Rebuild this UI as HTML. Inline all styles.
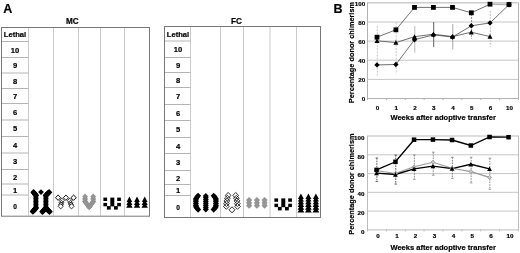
<!DOCTYPE html>
<html lang="en">
<head>
<meta charset="utf-8">
<title>Figure</title>
<style>
html,body{margin:0;padding:0;background:#fff;}
body{width:520px;height:253px;overflow:hidden;}
svg{display:block;}
svg text{font-family:'Liberation Sans', sans-serif;font-weight:bold;fill:#000;stroke:#000;stroke-width:0.18px;}
</style>
</head>
<body>
<svg width="520" height="253" viewBox="0 0 520 253">
<rect width="520" height="253" fill="#fff"/>
<text x="3.3" y="13.4" font-size="12.5" text-anchor="start" >A</text>
<text x="333.6" y="13.1" font-size="12.5" text-anchor="start" >B</text>
<text x="72.4" y="24.4" font-size="8.2" text-anchor="middle" >MC</text>
<text x="236.4" y="24.3" font-size="8.2" text-anchor="middle" >FC</text>
<line x1="28.5" y1="27" x2="28.5" y2="215.7" stroke="#cbcbcb" stroke-width="1" />
<line x1="53.5" y1="27" x2="53.5" y2="215.7" stroke="#cbcbcb" stroke-width="1" />
<line x1="78.5" y1="27" x2="78.5" y2="215.7" stroke="#cbcbcb" stroke-width="1" />
<line x1="100.5" y1="27" x2="100.5" y2="215.7" stroke="#cbcbcb" stroke-width="1" />
<line x1="124.5" y1="27" x2="124.5" y2="215.7" stroke="#cbcbcb" stroke-width="1" />
<line x1="1" y1="41.5" x2="28.5" y2="41.5" stroke="#b4b4b4" stroke-width="1" />
<line x1="1" y1="57.5" x2="28.5" y2="57.5" stroke="#b4b4b4" stroke-width="1" />
<line x1="1" y1="73.0" x2="28.5" y2="73.0" stroke="#b4b4b4" stroke-width="1" />
<line x1="1" y1="88.5" x2="28.5" y2="88.5" stroke="#b4b4b4" stroke-width="1" />
<line x1="1" y1="103.5" x2="28.5" y2="103.5" stroke="#b4b4b4" stroke-width="1" />
<line x1="1" y1="120.0" x2="28.5" y2="120.0" stroke="#b4b4b4" stroke-width="1" />
<line x1="1" y1="136.5" x2="28.5" y2="136.5" stroke="#b4b4b4" stroke-width="1" />
<line x1="1" y1="153.0" x2="28.5" y2="153.0" stroke="#b4b4b4" stroke-width="1" />
<line x1="1" y1="169.5" x2="28.5" y2="169.5" stroke="#b4b4b4" stroke-width="1" />
<line x1="1" y1="184.0" x2="28.5" y2="184.0" stroke="#b4b4b4" stroke-width="1" />
<line x1="1" y1="195.0" x2="28.5" y2="195.0" stroke="#b4b4b4" stroke-width="1" />
<rect x="1.5" y="27.5" width="148" height="188.7" fill="none" stroke="#787878" stroke-width="1"/>
<text x="15" y="37.34" font-size="7.6" text-anchor="middle" >Lethal</text>
<text x="15" y="52.74" font-size="7.6" text-anchor="middle" >10</text>
<text x="15" y="68.49" font-size="7.6" text-anchor="middle" >9</text>
<text x="15" y="83.99" font-size="7.6" text-anchor="middle" >8</text>
<text x="15" y="99.24" font-size="7.6" text-anchor="middle" >7</text>
<text x="15" y="114.99" font-size="7.6" text-anchor="middle" >6</text>
<text x="15" y="131.49" font-size="7.6" text-anchor="middle" >5</text>
<text x="15" y="147.99" font-size="7.6" text-anchor="middle" >4</text>
<text x="15" y="164.49" font-size="7.6" text-anchor="middle" >3</text>
<text x="15" y="179.99" font-size="7.6" text-anchor="middle" >2</text>
<text x="15" y="192.74" font-size="7.6" text-anchor="middle" >1</text>
<text x="15" y="209.18" font-size="6.6" text-anchor="middle" >0</text>
<line x1="190.5" y1="26" x2="190.5" y2="217" stroke="#cbcbcb" stroke-width="1" />
<line x1="220.5" y1="26" x2="220.5" y2="217" stroke="#cbcbcb" stroke-width="1" />
<line x1="243.5" y1="26" x2="243.5" y2="217" stroke="#cbcbcb" stroke-width="1" />
<line x1="270.0" y1="26" x2="270.0" y2="217" stroke="#cbcbcb" stroke-width="1" />
<line x1="296.5" y1="26" x2="296.5" y2="217" stroke="#cbcbcb" stroke-width="1" />
<line x1="164" y1="41.0" x2="190.5" y2="41.0" stroke="#b4b4b4" stroke-width="1" />
<line x1="164" y1="57.5" x2="190.5" y2="57.5" stroke="#b4b4b4" stroke-width="1" />
<line x1="164" y1="72.5" x2="190.5" y2="72.5" stroke="#b4b4b4" stroke-width="1" />
<line x1="164" y1="87.5" x2="190.5" y2="87.5" stroke="#b4b4b4" stroke-width="1" />
<line x1="164" y1="104.5" x2="190.5" y2="104.5" stroke="#b4b4b4" stroke-width="1" />
<line x1="164" y1="120.5" x2="190.5" y2="120.5" stroke="#b4b4b4" stroke-width="1" />
<line x1="164" y1="137.5" x2="190.5" y2="137.5" stroke="#b4b4b4" stroke-width="1" />
<line x1="164" y1="153.5" x2="190.5" y2="153.5" stroke="#b4b4b4" stroke-width="1" />
<line x1="164" y1="170.5" x2="190.5" y2="170.5" stroke="#b4b4b4" stroke-width="1" />
<line x1="164" y1="184.5" x2="190.5" y2="184.5" stroke="#b4b4b4" stroke-width="1" />
<line x1="164" y1="195.5" x2="190.5" y2="195.5" stroke="#b4b4b4" stroke-width="1" />
<rect x="164.5" y="26.5" width="156" height="191" fill="none" stroke="#787878" stroke-width="1"/>
<text x="178" y="36.59" font-size="7.6" text-anchor="middle" >Lethal</text>
<text x="178" y="52.49" font-size="7.6" text-anchor="middle" >10</text>
<text x="178" y="68.24" font-size="7.6" text-anchor="middle" >9</text>
<text x="178" y="83.24" font-size="7.6" text-anchor="middle" >8</text>
<text x="178" y="99.24" font-size="7.6" text-anchor="middle" >7</text>
<text x="178" y="115.74" font-size="7.6" text-anchor="middle" >6</text>
<text x="178" y="132.24" font-size="7.6" text-anchor="middle" >5</text>
<text x="178" y="148.74" font-size="7.6" text-anchor="middle" >4</text>
<text x="178" y="165.24" font-size="7.6" text-anchor="middle" >3</text>
<text x="178" y="180.74" font-size="7.6" text-anchor="middle" >2</text>
<text x="178" y="193.24" font-size="7.6" text-anchor="middle" >1</text>
<text x="178" y="210.08" font-size="6.6" text-anchor="middle" >0</text>
<path d="M35.9,192.8 L38.7,195.6 L35.9,198.4 L33.1,195.6 Z" fill="#000" stroke="none" stroke-width="0.8"/>
<path d="M35.9,194.3 L38.7,197.1 L35.9,199.9 L33.1,197.1 Z" fill="#000" stroke="none" stroke-width="0.8"/>
<path d="M35.9,195.8 L38.7,198.6 L35.9,201.4 L33.1,198.6 Z" fill="#000" stroke="none" stroke-width="0.8"/>
<path d="M35.9,197.3 L38.7,200.1 L35.9,202.9 L33.1,200.1 Z" fill="#000" stroke="none" stroke-width="0.8"/>
<path d="M35.9,198.8 L38.7,201.6 L35.9,204.4 L33.1,201.6 Z" fill="#000" stroke="none" stroke-width="0.8"/>
<path d="M35.9,200.3 L38.7,203.1 L35.9,205.9 L33.1,203.1 Z" fill="#000" stroke="none" stroke-width="0.8"/>
<path d="M35.9,201.8 L38.7,204.6 L35.9,207.4 L33.1,204.6 Z" fill="#000" stroke="none" stroke-width="0.8"/>
<path d="M35.9,203.3 L38.7,206.1 L35.9,208.9 L33.1,206.1 Z" fill="#000" stroke="none" stroke-width="0.8"/>
<path d="M35.9,204.8 L38.7,207.6 L35.9,210.4 L33.1,207.6 Z" fill="#000" stroke="none" stroke-width="0.8"/>
<path d="M33.5,189.1 L36.7,192.3 L33.5,195.5 L30.3,192.3 Z" fill="#000" stroke="none" stroke-width="0.8"/>
<path d="M34.1,189.83 L37.3,193.03 L34.1,196.23 L30.9,193.03 Z" fill="#000" stroke="none" stroke-width="0.8"/>
<path d="M34.7,190.55 L37.9,193.75 L34.7,196.95 L31.5,193.75 Z" fill="#000" stroke="none" stroke-width="0.8"/>
<path d="M35.3,191.27 L38.5,194.47 L35.3,197.67 L32.1,194.47 Z" fill="#000" stroke="none" stroke-width="0.8"/>
<path d="M35.9,192.0 L39.1,195.2 L35.9,198.4 L32.7,195.2 Z" fill="#000" stroke="none" stroke-width="0.8"/>
<path d="M35.9,204.8 L39.1,208.0 L35.9,211.2 L32.7,208.0 Z" fill="#000" stroke="none" stroke-width="0.8"/>
<path d="M35.28,205.52 L38.48,208.72 L35.28,211.92 L32.08,208.72 Z" fill="#000" stroke="none" stroke-width="0.8"/>
<path d="M34.66,206.24 L37.86,209.44 L34.66,212.64 L31.46,209.44 Z" fill="#000" stroke="none" stroke-width="0.8"/>
<path d="M34.04,206.96 L37.24,210.16 L34.04,213.36 L30.84,210.16 Z" fill="#000" stroke="none" stroke-width="0.8"/>
<path d="M33.42,207.68 L36.62,210.88 L33.42,214.08 L30.22,210.88 Z" fill="#000" stroke="none" stroke-width="0.8"/>
<path d="M32.8,208.4 L36.0,211.6 L32.8,214.8 L29.6,211.6 Z" fill="#000" stroke="none" stroke-width="0.8"/>
<path d="M45.9,192.8 L48.7,195.6 L45.9,198.4 L43.1,195.6 Z" fill="#000" stroke="none" stroke-width="0.8"/>
<path d="M45.9,194.3 L48.7,197.1 L45.9,199.9 L43.1,197.1 Z" fill="#000" stroke="none" stroke-width="0.8"/>
<path d="M45.9,195.8 L48.7,198.6 L45.9,201.4 L43.1,198.6 Z" fill="#000" stroke="none" stroke-width="0.8"/>
<path d="M45.9,197.3 L48.7,200.1 L45.9,202.9 L43.1,200.1 Z" fill="#000" stroke="none" stroke-width="0.8"/>
<path d="M45.9,198.8 L48.7,201.6 L45.9,204.4 L43.1,201.6 Z" fill="#000" stroke="none" stroke-width="0.8"/>
<path d="M45.9,200.3 L48.7,203.1 L45.9,205.9 L43.1,203.1 Z" fill="#000" stroke="none" stroke-width="0.8"/>
<path d="M45.9,201.8 L48.7,204.6 L45.9,207.4 L43.1,204.6 Z" fill="#000" stroke="none" stroke-width="0.8"/>
<path d="M45.9,203.3 L48.7,206.1 L45.9,208.9 L43.1,206.1 Z" fill="#000" stroke="none" stroke-width="0.8"/>
<path d="M45.9,204.8 L48.7,207.6 L45.9,210.4 L43.1,207.6 Z" fill="#000" stroke="none" stroke-width="0.8"/>
<path d="M49.1,189.0 L52.3,192.2 L49.1,195.4 L45.9,192.2 Z" fill="#000" stroke="none" stroke-width="0.8"/>
<path d="M48.46,189.64 L51.66,192.84 L48.46,196.04 L45.26,192.84 Z" fill="#000" stroke="none" stroke-width="0.8"/>
<path d="M47.82,190.28 L51.02,193.48 L47.82,196.68 L44.62,193.48 Z" fill="#000" stroke="none" stroke-width="0.8"/>
<path d="M47.18,190.92 L50.38,194.12 L47.18,197.32 L43.98,194.12 Z" fill="#000" stroke="none" stroke-width="0.8"/>
<path d="M46.54,191.56 L49.74,194.76 L46.54,197.96 L43.34,194.76 Z" fill="#000" stroke="none" stroke-width="0.8"/>
<path d="M45.9,192.2 L49.1,195.4 L45.9,198.6 L42.7,195.4 Z" fill="#000" stroke="none" stroke-width="0.8"/>
<path d="M45.9,204.8 L49.1,208.0 L45.9,211.2 L42.7,208.0 Z" fill="#000" stroke="none" stroke-width="0.8"/>
<path d="M46.64,205.54 L49.84,208.74 L46.64,211.94 L43.44,208.74 Z" fill="#000" stroke="none" stroke-width="0.8"/>
<path d="M47.38,206.28 L50.58,209.48 L47.38,212.68 L44.18,209.48 Z" fill="#000" stroke="none" stroke-width="0.8"/>
<path d="M48.12,207.02 L51.32,210.22 L48.12,213.42 L44.92,210.22 Z" fill="#000" stroke="none" stroke-width="0.8"/>
<path d="M48.86,207.76 L52.06,210.96 L48.86,214.16 L45.66,210.96 Z" fill="#000" stroke="none" stroke-width="0.8"/>
<path d="M49.6,208.5 L52.8,211.7 L49.6,214.9 L46.4,211.7 Z" fill="#000" stroke="none" stroke-width="0.8"/>
<path d="M45.9,204.8 L49.1,208.0 L45.9,211.2 L42.7,208.0 Z" fill="#000" stroke="none" stroke-width="0.8"/>
<path d="M45.2,205.54 L48.4,208.74 L45.2,211.94 L42.0,208.74 Z" fill="#000" stroke="none" stroke-width="0.8"/>
<path d="M44.5,206.28 L47.7,209.48 L44.5,212.68 L41.3,209.48 Z" fill="#000" stroke="none" stroke-width="0.8"/>
<path d="M43.8,207.02 L47.0,210.22 L43.8,213.42 L40.6,210.22 Z" fill="#000" stroke="none" stroke-width="0.8"/>
<path d="M43.1,207.76 L46.3,210.96 L43.1,214.16 L39.9,210.96 Z" fill="#000" stroke="none" stroke-width="0.8"/>
<path d="M42.4,208.5 L45.6,211.7 L42.4,214.9 L39.2,211.7 Z" fill="#000" stroke="none" stroke-width="0.8"/>
<path d="M41,189.2 L43.9,192.1 L41,195.0 L38.1,192.1 Z" fill="#000" stroke="none" stroke-width="0.8"/>
<path d="M61.9,198.2 L64.4,200.7 L61.9,203.2 L59.4,200.7 Z" fill="none" stroke="#111" stroke-width="0.8"/>
<path d="M61.4,200.3 L63.9,202.8 L61.4,205.3 L58.9,202.8 Z" fill="none" stroke="#111" stroke-width="0.8"/>
<path d="M61.0,202.1 L63.5,204.6 L61.0,207.1 L58.5,204.6 Z" fill="none" stroke="#111" stroke-width="0.8"/>
<path d="M69.8,198.2 L72.3,200.7 L69.8,203.2 L67.3,200.7 Z" fill="none" stroke="#111" stroke-width="0.8"/>
<path d="M70.5,200.3 L73.0,202.8 L70.5,205.3 L68.0,202.8 Z" fill="none" stroke="#111" stroke-width="0.8"/>
<path d="M71.1,202.1 L73.6,204.6 L71.1,207.1 L68.6,204.6 Z" fill="none" stroke="#111" stroke-width="0.8"/>
<path d="M60.7,203.7 L63.3,206.3 L60.7,208.9 L58.1,206.3 Z" fill="#fff" stroke="#111" stroke-width="0.85"/>
<path d="M71.5,203.7 L74.1,206.3 L71.5,208.9 L68.9,206.3 Z" fill="#fff" stroke="#111" stroke-width="0.85"/>
<path d="M58.1,195.05 L60.75,197.7 L58.1,200.35 L55.45,197.7 Z" fill="#fff" stroke="#000" stroke-width="0.95"/>
<path d="M65.9,195.05 L68.55,197.7 L65.9,200.35 L63.25,197.7 Z" fill="#fff" stroke="#000" stroke-width="0.95"/>
<path d="M73.6,195.05 L76.25,197.7 L73.6,200.35 L70.95,197.7 Z" fill="#fff" stroke="#000" stroke-width="0.95"/>
<path d="M85.1,193.55 L87.95,196.4 L85.1,199.25 L82.25,196.4 Z" fill="#949494" stroke="none" stroke-width="0.8"/>
<path d="M85.1,195.28 L87.95,198.13 L85.1,200.98 L82.25,198.13 Z" fill="#949494" stroke="none" stroke-width="0.8"/>
<path d="M85.1,197.02 L87.95,199.87 L85.1,202.72 L82.25,199.87 Z" fill="#949494" stroke="none" stroke-width="0.8"/>
<path d="M85.1,198.75 L87.95,201.6 L85.1,204.45 L82.25,201.6 Z" fill="#949494" stroke="none" stroke-width="0.8"/>
<path d="M85.1,198.75 L87.95,201.6 L85.1,204.45 L82.25,201.6 Z" fill="#949494" stroke="none" stroke-width="0.8"/>
<path d="M85.69,199.55 L88.54,202.4 L85.69,205.25 L82.84,202.4 Z" fill="#949494" stroke="none" stroke-width="0.8"/>
<path d="M86.27,200.35 L89.12,203.2 L86.27,206.05 L83.42,203.2 Z" fill="#949494" stroke="none" stroke-width="0.8"/>
<path d="M86.86,201.15 L89.71,204.0 L86.86,206.85 L84.01,204.0 Z" fill="#949494" stroke="none" stroke-width="0.8"/>
<path d="M87.44,201.95 L90.29,204.8 L87.44,207.65 L84.59,204.8 Z" fill="#949494" stroke="none" stroke-width="0.8"/>
<path d="M88.03,202.75 L90.88,205.6 L88.03,208.45 L85.18,205.6 Z" fill="#949494" stroke="none" stroke-width="0.8"/>
<path d="M88.61,203.55 L91.46,206.4 L88.61,209.25 L85.76,206.4 Z" fill="#949494" stroke="none" stroke-width="0.8"/>
<path d="M89.2,204.35 L92.05,207.2 L89.2,210.05 L86.35,207.2 Z" fill="#949494" stroke="none" stroke-width="0.8"/>
<path d="M93.2,193.55 L96.05,196.4 L93.2,199.25 L90.35,196.4 Z" fill="#949494" stroke="none" stroke-width="0.8"/>
<path d="M93.2,195.28 L96.05,198.13 L93.2,200.98 L90.35,198.13 Z" fill="#949494" stroke="none" stroke-width="0.8"/>
<path d="M93.2,197.02 L96.05,199.87 L93.2,202.72 L90.35,199.87 Z" fill="#949494" stroke="none" stroke-width="0.8"/>
<path d="M93.2,198.75 L96.05,201.6 L93.2,204.45 L90.35,201.6 Z" fill="#949494" stroke="none" stroke-width="0.8"/>
<path d="M93.2,198.75 L96.05,201.6 L93.2,204.45 L90.35,201.6 Z" fill="#949494" stroke="none" stroke-width="0.8"/>
<path d="M92.63,199.55 L95.48,202.4 L92.63,205.25 L89.78,202.4 Z" fill="#949494" stroke="none" stroke-width="0.8"/>
<path d="M92.06,200.35 L94.91,203.2 L92.06,206.05 L89.21,203.2 Z" fill="#949494" stroke="none" stroke-width="0.8"/>
<path d="M91.49,201.15 L94.34,204.0 L91.49,206.85 L88.64,204.0 Z" fill="#949494" stroke="none" stroke-width="0.8"/>
<path d="M90.91,201.95 L93.76,204.8 L90.91,207.65 L88.06,204.8 Z" fill="#949494" stroke="none" stroke-width="0.8"/>
<path d="M90.34,202.75 L93.19,205.6 L90.34,208.45 L87.49,205.6 Z" fill="#949494" stroke="none" stroke-width="0.8"/>
<path d="M89.77,203.55 L92.62,206.4 L89.77,209.25 L86.92,206.4 Z" fill="#949494" stroke="none" stroke-width="0.8"/>
<path d="M89.2,204.35 L92.05,207.2 L89.2,210.05 L86.35,207.2 Z" fill="#949494" stroke="none" stroke-width="0.8"/>
<rect x="103.4" y="197.6" width="3.7" height="3.4" fill="#000"/>
<rect x="117.2" y="197.6" width="3.7" height="3.4" fill="#000"/>
<rect x="110.3" y="197.6" width="4.0" height="8.8" fill="#000"/>
<rect x="103.4" y="202.9" width="3.7" height="3.4" fill="#000"/>
<rect x="117.2" y="202.9" width="3.7" height="3.4" fill="#000"/>
<rect x="106.9" y="206.1" width="3.8" height="3.5" fill="#000"/>
<rect x="114.0" y="206.1" width="3.8" height="3.5" fill="#000"/>
<path d="M129.4,196.40 L132.26,202.10 L126.54,202.10 Z M129.4,199.25 L132.43,204.95 L126.37,204.95 Z M129.4,202.10 L132.60,207.80 L126.20,207.80 Z " fill="#000"/>
<path d="M137,196.40 L139.86,202.10 L134.14,202.10 Z M137,199.25 L140.03,204.95 L133.97,204.95 Z M137,202.10 L140.20,207.80 L133.80,207.80 Z " fill="#000"/>
<path d="M144.7,196.40 L147.56,202.10 L141.84,202.10 Z M144.7,199.25 L147.73,204.95 L141.67,204.95 Z M144.7,202.10 L147.90,207.80 L141.50,207.80 Z " fill="#000"/>
<path d="M198.1,192.75 L201.15,195.8 L198.1,198.85 L195.05,195.8 Z" fill="#000" stroke="none" stroke-width="0.8"/>
<path d="M197.11,194.05 L200.16,197.1 L197.11,200.15 L194.06,197.1 Z" fill="#000" stroke="none" stroke-width="0.8"/>
<path d="M196.12,195.45 L199.17,198.5 L196.12,201.55 L193.07,198.5 Z" fill="#000" stroke="none" stroke-width="0.8"/>
<path d="M195.9,196.85 L198.95,199.9 L195.9,202.95 L192.85,199.9 Z" fill="#000" stroke="none" stroke-width="0.8"/>
<path d="M195.9,198.72 L198.95,201.77 L195.9,204.82 L192.85,201.77 Z" fill="#000" stroke="none" stroke-width="0.8"/>
<path d="M195.9,200.58 L198.95,203.63 L195.9,206.68 L192.85,203.63 Z" fill="#000" stroke="none" stroke-width="0.8"/>
<path d="M195.9,202.45 L198.95,205.5 L195.9,208.55 L192.85,205.5 Z" fill="#000" stroke="none" stroke-width="0.8"/>
<path d="M196.12,203.85 L199.17,206.9 L196.12,209.95 L193.07,206.9 Z" fill="#000" stroke="none" stroke-width="0.8"/>
<path d="M197.11,205.25 L200.16,208.3 L197.11,211.35 L194.06,208.3 Z" fill="#000" stroke="none" stroke-width="0.8"/>
<path d="M198.1,206.55 L201.15,209.6 L198.1,212.65 L195.05,209.6 Z" fill="#000" stroke="none" stroke-width="0.8"/>
<path d="M205.8,192.9 L208.8,195.9 L205.8,198.9 L202.8,195.9 Z" fill="#000" stroke="none" stroke-width="0.8"/>
<path d="M205.8,194.86 L208.8,197.86 L205.8,200.86 L202.8,197.86 Z" fill="#000" stroke="none" stroke-width="0.8"/>
<path d="M205.8,196.81 L208.8,199.81 L205.8,202.81 L202.8,199.81 Z" fill="#000" stroke="none" stroke-width="0.8"/>
<path d="M205.8,198.77 L208.8,201.77 L205.8,204.77 L202.8,201.77 Z" fill="#000" stroke="none" stroke-width="0.8"/>
<path d="M205.8,200.73 L208.8,203.73 L205.8,206.73 L202.8,203.73 Z" fill="#000" stroke="none" stroke-width="0.8"/>
<path d="M205.8,202.69 L208.8,205.69 L205.8,208.69 L202.8,205.69 Z" fill="#000" stroke="none" stroke-width="0.8"/>
<path d="M205.8,204.64 L208.8,207.64 L205.8,210.64 L202.8,207.64 Z" fill="#000" stroke="none" stroke-width="0.8"/>
<path d="M205.8,206.6 L208.8,209.6 L205.8,212.6 L202.8,209.6 Z" fill="#000" stroke="none" stroke-width="0.8"/>
<path d="M213.7,192.75 L216.75,195.8 L213.7,198.85 L210.65,195.8 Z" fill="#000" stroke="none" stroke-width="0.8"/>
<path d="M214.69,194.05 L217.74,197.1 L214.69,200.15 L211.64,197.1 Z" fill="#000" stroke="none" stroke-width="0.8"/>
<path d="M215.68,195.45 L218.73,198.5 L215.68,201.55 L212.63,198.5 Z" fill="#000" stroke="none" stroke-width="0.8"/>
<path d="M215.9,196.85 L218.95,199.9 L215.9,202.95 L212.85,199.9 Z" fill="#000" stroke="none" stroke-width="0.8"/>
<path d="M215.9,198.72 L218.95,201.77 L215.9,204.82 L212.85,201.77 Z" fill="#000" stroke="none" stroke-width="0.8"/>
<path d="M215.9,200.58 L218.95,203.63 L215.9,206.68 L212.85,203.63 Z" fill="#000" stroke="none" stroke-width="0.8"/>
<path d="M215.9,202.45 L218.95,205.5 L215.9,208.55 L212.85,205.5 Z" fill="#000" stroke="none" stroke-width="0.8"/>
<path d="M215.68,203.85 L218.73,206.9 L215.68,209.95 L212.63,206.9 Z" fill="#000" stroke="none" stroke-width="0.8"/>
<path d="M214.69,205.25 L217.74,208.3 L214.69,211.35 L211.64,208.3 Z" fill="#000" stroke="none" stroke-width="0.8"/>
<path d="M213.7,206.55 L216.75,209.6 L213.7,212.65 L210.65,209.6 Z" fill="#000" stroke="none" stroke-width="0.8"/>
<path d="M228.1,192.5 L231.0,195.4 L228.1,198.3 L225.2,195.4 Z" fill="none" stroke="#111" stroke-width="0.85"/>
<path d="M235.7,192.5 L238.6,195.4 L235.7,198.3 L232.8,195.4 Z" fill="none" stroke="#111" stroke-width="0.85"/>
<path d="M227.41,195.25 L230.31,198.15 L227.41,201.05 L224.51,198.15 Z" fill="none" stroke="#111" stroke-width="0.85"/>
<path d="M236.39,195.25 L239.29,198.15 L236.39,201.05 L233.49,198.15 Z" fill="none" stroke="#111" stroke-width="0.85"/>
<path d="M226.83,198.0 L229.73,200.9 L226.83,203.8 L223.93,200.9 Z" fill="none" stroke="#111" stroke-width="0.85"/>
<path d="M236.97,198.0 L239.87,200.9 L236.97,203.8 L234.07,200.9 Z" fill="none" stroke="#111" stroke-width="0.85"/>
<path d="M226.44,200.75 L229.34,203.65 L226.44,206.55 L223.54,203.65 Z" fill="none" stroke="#111" stroke-width="0.85"/>
<path d="M237.36,200.75 L240.26,203.65 L237.36,206.55 L234.46,203.65 Z" fill="none" stroke="#111" stroke-width="0.85"/>
<path d="M226.3,203.5 L229.2,206.4 L226.3,209.3 L223.4,206.4 Z" fill="none" stroke="#111" stroke-width="0.85"/>
<path d="M237.5,203.5 L240.4,206.4 L237.5,209.3 L234.6,206.4 Z" fill="none" stroke="#111" stroke-width="0.85"/>
<path d="M232.0,206.8 L235.0,209.8 L232.0,212.8 L229.0,209.8 Z" fill="#fff" stroke="#111" stroke-width="0.9"/>
<path d="M249.1,197.0 L252.2,200.1 L249.1,203.2 L246.0,200.1 Z" fill="#959595" stroke="none" stroke-width="0.8"/>
<path d="M249.1,199.8 L252.2,202.9 L249.1,206.0 L246.0,202.9 Z" fill="#959595" stroke="none" stroke-width="0.8"/>
<path d="M249.1,202.6 L252.2,205.7 L249.1,208.8 L246.0,205.7 Z" fill="#959595" stroke="none" stroke-width="0.8"/>
<rect x="247.2" y="200.1" width="3.8" height="5.6" fill="#959595"/>
<path d="M256.9,197.0 L260.0,200.1 L256.9,203.2 L253.8,200.1 Z" fill="#959595" stroke="none" stroke-width="0.8"/>
<path d="M256.9,199.8 L260.0,202.9 L256.9,206.0 L253.8,202.9 Z" fill="#959595" stroke="none" stroke-width="0.8"/>
<path d="M256.9,202.6 L260.0,205.7 L256.9,208.8 L253.8,205.7 Z" fill="#959595" stroke="none" stroke-width="0.8"/>
<rect x="255" y="200.1" width="3.8" height="5.6" fill="#959595"/>
<path d="M264.6,197.0 L267.7,200.1 L264.6,203.2 L261.5,200.1 Z" fill="#959595" stroke="none" stroke-width="0.8"/>
<path d="M264.6,199.8 L267.7,202.9 L264.6,206.0 L261.5,202.9 Z" fill="#959595" stroke="none" stroke-width="0.8"/>
<path d="M264.6,202.6 L267.7,205.7 L264.6,208.8 L261.5,205.7 Z" fill="#959595" stroke="none" stroke-width="0.8"/>
<rect x="262.7" y="200.1" width="3.8" height="5.6" fill="#959595"/>
<rect x="274.4" y="198.4" width="3.7" height="3.4" fill="#000"/>
<rect x="288.2" y="198.4" width="3.7" height="3.4" fill="#000"/>
<rect x="281.3" y="198.4" width="4.0" height="8.8" fill="#000"/>
<rect x="274.4" y="203.7" width="3.7" height="3.4" fill="#000"/>
<rect x="288.2" y="203.7" width="3.7" height="3.4" fill="#000"/>
<rect x="277.9" y="206.9" width="3.8" height="3.5" fill="#000"/>
<rect x="285.0" y="206.9" width="3.8" height="3.5" fill="#000"/>
<path d="M300.9,193.50 L303.89,198.90 L297.91,198.90 Z M300.9,196.20 L303.98,201.60 L297.82,201.60 Z M300.9,198.90 L304.07,204.30 L297.73,204.30 Z M300.9,201.60 L304.17,207.00 L297.63,207.00 Z M300.9,204.30 L304.26,209.70 L297.54,209.70 Z M300.9,207.00 L304.35,212.40 L297.45,212.40 Z " fill="#000"/>
<path d="M308.4,193.50 L311.39,198.90 L305.41,198.90 Z M308.4,196.20 L311.48,201.60 L305.32,201.60 Z M308.4,198.90 L311.57,204.30 L305.23,204.30 Z M308.4,201.60 L311.67,207.00 L305.13,207.00 Z M308.4,204.30 L311.76,209.70 L305.04,209.70 Z M308.4,207.00 L311.85,212.40 L304.95,212.40 Z " fill="#000"/>
<path d="M315.9,193.50 L318.89,198.90 L312.91,198.90 Z M315.9,196.20 L318.98,201.60 L312.82,201.60 Z M315.9,198.90 L319.07,204.30 L312.73,204.30 Z M315.9,201.60 L319.17,207.00 L312.63,207.00 Z M315.9,204.30 L319.26,209.70 L312.54,209.70 Z M315.9,207.00 L319.35,212.40 L312.45,212.40 Z " fill="#000"/>
<line x1="367.5" y1="79.4" x2="518.5" y2="79.4" stroke="#c6c6c6" stroke-width="1" />
<line x1="367.5" y1="60.2" x2="518.5" y2="60.2" stroke="#c6c6c6" stroke-width="1" />
<line x1="367.5" y1="41.1" x2="518.5" y2="41.1" stroke="#c6c6c6" stroke-width="1" />
<line x1="367.5" y1="22.0" x2="518.5" y2="22.0" stroke="#c6c6c6" stroke-width="1" />
<rect x="367.5" y="2.85" width="151.0" height="95.65" fill="none" stroke="#b2b2b2" stroke-width="1"/>
<line x1="367.5" y1="98.0" x2="367.5" y2="100.0" stroke="#b2b2b2" stroke-width="1" />
<line x1="386.38" y1="98.0" x2="386.38" y2="100.0" stroke="#b2b2b2" stroke-width="1" />
<line x1="405.25" y1="98.0" x2="405.25" y2="100.0" stroke="#b2b2b2" stroke-width="1" />
<line x1="424.12" y1="98.0" x2="424.12" y2="100.0" stroke="#b2b2b2" stroke-width="1" />
<line x1="443.0" y1="98.0" x2="443.0" y2="100.0" stroke="#b2b2b2" stroke-width="1" />
<line x1="461.88" y1="98.0" x2="461.88" y2="100.0" stroke="#b2b2b2" stroke-width="1" />
<line x1="480.75" y1="98.0" x2="480.75" y2="100.0" stroke="#b2b2b2" stroke-width="1" />
<line x1="499.62" y1="98.0" x2="499.62" y2="100.0" stroke="#b2b2b2" stroke-width="1" />
<line x1="518.5" y1="98.0" x2="518.5" y2="100.0" stroke="#b2b2b2" stroke-width="1" />
<text x="365.3" y="101.25" font-size="6.25" text-anchor="end" >0</text>
<text x="365.3" y="82.13" font-size="6.25" text-anchor="end" >20</text>
<text x="365.3" y="63.01" font-size="6.25" text-anchor="end" >40</text>
<text x="365.3" y="43.89" font-size="6.25" text-anchor="end" >60</text>
<text x="365.3" y="24.77" font-size="6.25" text-anchor="end" >80</text>
<text x="365.3" y="5.65" font-size="6.25" text-anchor="end" >100</text>
<text x="377.4" y="110.4" font-size="6.25" text-anchor="middle" >0</text>
<text x="396.3" y="110.4" font-size="6.25" text-anchor="middle" >1</text>
<text x="414.9" y="110.4" font-size="6.25" text-anchor="middle" >2</text>
<text x="433.8" y="110.4" font-size="6.25" text-anchor="middle" >3</text>
<text x="452.9" y="110.4" font-size="6.25" text-anchor="middle" >4</text>
<text x="471.7" y="110.4" font-size="6.25" text-anchor="middle" >5</text>
<text x="490.4" y="110.4" font-size="6.25" text-anchor="middle" >6</text>
<text x="509.4" y="110.4" font-size="6.25" text-anchor="middle" >10</text>
<text x="443.2" y="119.9" font-size="7.55" text-anchor="middle" >Weeks after adoptive transfer</text>
<text transform="translate(354.0,52.6) rotate(-90)" font-size="7.35" text-anchor="middle">Percentage donor chimerism</text>
<line x1="377.3" y1="25.8" x2="377.3" y2="76" stroke="#c8c8c8" stroke-width="1" stroke-dasharray="2,1.2"/>
<line x1="396.2" y1="22.4" x2="396.2" y2="74" stroke="#c8c8c8" stroke-width="1" stroke-dasharray="2,1.2"/>
<line x1="414.8" y1="26" x2="414.8" y2="52.6" stroke="#bcbcbc" stroke-width="1" />
<line x1="433.7" y1="22" x2="433.7" y2="47.2" stroke="#606060" stroke-width="1" />
<line x1="452.8" y1="24" x2="452.8" y2="49.5" stroke="#a6a6a6" stroke-width="1" />
<line x1="471.6" y1="14" x2="471.6" y2="38.8" stroke="#909090" stroke-width="1" stroke-dasharray="2,1"/>
<line x1="490.3" y1="10.8" x2="490.3" y2="46.9" stroke="#c0c0c0" stroke-width="1" stroke-dasharray="2,1.2"/>
<polyline points="377.0,64.9 395.9,64.5 414.5,39.7 433.4,34.9 452.5,37.0 471.3,25.8 490.0,22.9 509.0,4.7" fill="none" stroke="#383838" stroke-width="0.72"/>
<polyline points="377.0,40.8 395.9,42.6 414.5,36.7 433.4,34.2 452.5,36.6 471.3,32.2 490.0,36.6" fill="none" stroke="#383838" stroke-width="0.72"/>
<line x1="490.0" y1="4.2" x2="509.0" y2="4.5" stroke="#b4b4b4" stroke-width="1.4" />
<polyline points="377.0,37.2 395.9,29.8 414.5,7.4 433.4,7.4 452.5,7.4 471.3,12.8 490.0,4.2" fill="none" stroke="#383838" stroke-width="0.72"/>
<path d="M377.0,62.2 L379.7,64.9 L377.0,67.6 L374.3,64.9 Z" fill="#000" stroke="none" stroke-width="0.8"/>
<path d="M395.9,61.8 L398.6,64.5 L395.9,67.2 L393.2,64.5 Z" fill="#000" stroke="none" stroke-width="0.8"/>
<path d="M414.5,37.0 L417.2,39.7 L414.5,42.4 L411.8,39.7 Z" fill="#000" stroke="none" stroke-width="0.8"/>
<path d="M433.4,32.2 L436.1,34.9 L433.4,37.6 L430.7,34.9 Z" fill="#000" stroke="none" stroke-width="0.8"/>
<path d="M452.5,34.3 L455.2,37.0 L452.5,39.7 L449.8,37.0 Z" fill="#000" stroke="none" stroke-width="0.8"/>
<path d="M471.3,23.1 L474.0,25.8 L471.3,28.5 L468.6,25.8 Z" fill="#000" stroke="none" stroke-width="0.8"/>
<path d="M490.0,20.2 L492.7,22.9 L490.0,25.6 L487.3,22.9 Z" fill="#000" stroke="none" stroke-width="0.8"/>
<path d="M509.0,2.0 L511.7,4.7 L509.0,7.4 L506.3,4.7 Z" fill="#000" stroke="none" stroke-width="0.8"/>
<path d="M377.0,38.3 L379.5,43.05 L374.5,43.05 Z" fill="#000"/>
<path d="M395.9,40.1 L398.4,44.85 L393.4,44.85 Z" fill="#000"/>
<path d="M414.5,34.2 L417.0,38.95 L412.0,38.95 Z" fill="#000"/>
<path d="M433.4,31.7 L435.9,36.45 L430.9,36.45 Z" fill="#000"/>
<path d="M452.5,34.1 L455.0,38.85 L450.0,38.85 Z" fill="#000"/>
<path d="M471.3,29.7 L473.8,34.45 L468.8,34.45 Z" fill="#000"/>
<path d="M490.0,34.1 L492.5,38.85 L487.5,38.85 Z" fill="#000"/>
<rect x="374.6" y="34.8" width="4.8" height="4.8" fill="#000"/>
<rect x="393.5" y="27.4" width="4.8" height="4.8" fill="#000"/>
<rect x="412.1" y="5.0" width="4.8" height="4.8" fill="#000"/>
<rect x="431.0" y="5.0" width="4.8" height="4.8" fill="#000"/>
<rect x="450.1" y="5.0" width="4.8" height="4.8" fill="#000"/>
<rect x="468.9" y="10.4" width="4.8" height="4.8" fill="#000"/>
<rect x="487.6" y="1.8" width="4.8" height="4.8" fill="#000"/>
<rect x="506.6" y="2.1" width="4.8" height="4.8" fill="#000"/>
<line x1="367.5" y1="211.1" x2="518.5" y2="211.1" stroke="#c6c6c6" stroke-width="1" />
<line x1="367.5" y1="192.3" x2="518.5" y2="192.3" stroke="#c6c6c6" stroke-width="1" />
<line x1="367.5" y1="173.6" x2="518.5" y2="173.6" stroke="#c6c6c6" stroke-width="1" />
<line x1="367.5" y1="154.8" x2="518.5" y2="154.8" stroke="#c6c6c6" stroke-width="1" />
<rect x="367.5" y="136.0" width="151.0" height="93.9" fill="none" stroke="#bcbcbc" stroke-width="1"/>
<line x1="367.5" y1="229.4" x2="367.5" y2="231.4" stroke="#bcbcbc" stroke-width="1" />
<line x1="386.38" y1="229.4" x2="386.38" y2="231.4" stroke="#bcbcbc" stroke-width="1" />
<line x1="405.25" y1="229.4" x2="405.25" y2="231.4" stroke="#bcbcbc" stroke-width="1" />
<line x1="424.12" y1="229.4" x2="424.12" y2="231.4" stroke="#bcbcbc" stroke-width="1" />
<line x1="443.0" y1="229.4" x2="443.0" y2="231.4" stroke="#bcbcbc" stroke-width="1" />
<line x1="461.88" y1="229.4" x2="461.88" y2="231.4" stroke="#bcbcbc" stroke-width="1" />
<line x1="480.75" y1="229.4" x2="480.75" y2="231.4" stroke="#bcbcbc" stroke-width="1" />
<line x1="499.62" y1="229.4" x2="499.62" y2="231.4" stroke="#bcbcbc" stroke-width="1" />
<line x1="518.5" y1="229.4" x2="518.5" y2="231.4" stroke="#bcbcbc" stroke-width="1" />
<text x="364.5" y="233.65" font-size="6.25" text-anchor="end" >0</text>
<text x="364.5" y="214.89" font-size="6.25" text-anchor="end" >20</text>
<text x="364.5" y="196.13" font-size="6.25" text-anchor="end" >40</text>
<text x="364.5" y="177.37" font-size="6.25" text-anchor="end" >60</text>
<text x="364.5" y="158.61" font-size="6.25" text-anchor="end" >80</text>
<text x="364.5" y="139.85" font-size="6.25" text-anchor="end" >100</text>
<text x="378.0" y="238.2" font-size="6.25" text-anchor="middle" >0</text>
<text x="396.9" y="238.2" font-size="6.25" text-anchor="middle" >1</text>
<text x="415.5" y="238.2" font-size="6.25" text-anchor="middle" >2</text>
<text x="434.4" y="238.2" font-size="6.25" text-anchor="middle" >3</text>
<text x="453.5" y="238.2" font-size="6.25" text-anchor="middle" >4</text>
<text x="472.3" y="238.2" font-size="6.25" text-anchor="middle" >5</text>
<text x="491.0" y="238.2" font-size="6.25" text-anchor="middle" >6</text>
<text x="510.0" y="238.2" font-size="6.25" text-anchor="middle" >10</text>
<text x="443.2" y="250.0" font-size="7.55" text-anchor="middle" >Weeks after adoptive transfer</text>
<text transform="translate(354.0,184.1) rotate(-90)" font-size="7.35" text-anchor="middle">Percentage donor chimerism</text>
<line x1="376.85" y1="158" x2="376.85" y2="181.5" stroke="#555" stroke-width="1" stroke-dasharray="1.6,1"/>
<line x1="375.55" y1="158" x2="378.15" y2="158" stroke="#555" stroke-width="0.8" />
<line x1="375.55" y1="181.5" x2="378.15" y2="181.5" stroke="#555" stroke-width="0.8" />
<line x1="395.75" y1="155" x2="395.75" y2="184.1" stroke="#555" stroke-width="1" stroke-dasharray="1.6,1"/>
<line x1="394.45" y1="155" x2="397.05" y2="155" stroke="#555" stroke-width="0.8" />
<line x1="394.45" y1="184.1" x2="397.05" y2="184.1" stroke="#555" stroke-width="0.8" />
<line x1="414.35" y1="155" x2="414.35" y2="179.3" stroke="#888" stroke-width="1" stroke-dasharray="1.6,1"/>
<line x1="413.05" y1="155" x2="415.65" y2="155" stroke="#888" stroke-width="0.8" />
<line x1="413.05" y1="179.3" x2="415.65" y2="179.3" stroke="#888" stroke-width="0.8" />
<line x1="433.25" y1="152.2" x2="433.25" y2="175.3" stroke="#888" stroke-width="1" stroke-dasharray="1.6,1"/>
<line x1="431.95" y1="152.2" x2="434.55" y2="152.2" stroke="#888" stroke-width="0.8" />
<line x1="431.95" y1="175.3" x2="434.55" y2="175.3" stroke="#888" stroke-width="0.8" />
<line x1="452.35" y1="157.3" x2="452.35" y2="178.3" stroke="#777" stroke-width="1" stroke-dasharray="1.6,1"/>
<line x1="451.05" y1="157.3" x2="453.65" y2="157.3" stroke="#777" stroke-width="0.8" />
<line x1="451.05" y1="178.3" x2="453.65" y2="178.3" stroke="#777" stroke-width="0.8" />
<line x1="471.15" y1="157.3" x2="471.15" y2="182.9" stroke="#888" stroke-width="1" stroke-dasharray="1.6,1"/>
<line x1="469.85" y1="157.3" x2="472.45" y2="157.3" stroke="#888" stroke-width="0.8" />
<line x1="469.85" y1="182.9" x2="472.45" y2="182.9" stroke="#888" stroke-width="0.8" />
<line x1="489.85" y1="158.2" x2="489.85" y2="189.3" stroke="#888" stroke-width="1" stroke-dasharray="1.6,1"/>
<line x1="488.55" y1="158.2" x2="491.15" y2="158.2" stroke="#888" stroke-width="0.8" />
<line x1="488.55" y1="189.3" x2="491.15" y2="189.3" stroke="#888" stroke-width="0.8" />
<polyline points="376.55,170.5 395.45,173.5 414.05,166.8 432.95,162.2 452.05,168.3 470.85,171.6 489.55,177.4" fill="none" stroke="#999" stroke-width="1.1"/>
<polyline points="376.55,173.1 395.45,174.5 414.05,168.8 432.95,166.2 452.05,168.6 470.85,164.3 489.55,168.8" fill="none" stroke="#000" stroke-width="1.35"/>
<polyline points="376.55,169.9 395.45,161.8 414.05,139.7 432.95,139.6 452.05,140 470.85,145.5 489.55,137 508.55,137.2" fill="none" stroke="#000" stroke-width="1.35"/>
<path d="M376.55,168.5 L378.55,170.5 L376.55,172.5 L374.55,170.5 Z" fill="#c6c6c6" stroke="#999" stroke-width="0.8"/>
<path d="M395.45,171.5 L397.45,173.5 L395.45,175.5 L393.45,173.5 Z" fill="#c6c6c6" stroke="#999" stroke-width="0.8"/>
<path d="M414.05,164.8 L416.05,166.8 L414.05,168.8 L412.05,166.8 Z" fill="#c6c6c6" stroke="#999" stroke-width="0.8"/>
<path d="M432.95,160.2 L434.95,162.2 L432.95,164.2 L430.95,162.2 Z" fill="#c6c6c6" stroke="#999" stroke-width="0.8"/>
<path d="M452.05,166.3 L454.05,168.3 L452.05,170.3 L450.05,168.3 Z" fill="#c6c6c6" stroke="#999" stroke-width="0.8"/>
<path d="M470.85,169.6 L472.85,171.6 L470.85,173.6 L468.85,171.6 Z" fill="#c6c6c6" stroke="#999" stroke-width="0.8"/>
<path d="M489.55,175.4 L491.55,177.4 L489.55,179.4 L487.55,177.4 Z" fill="#c6c6c6" stroke="#999" stroke-width="0.8"/>
<path d="M376.55,170.7 L378.95,175.26 L374.15,175.26 Z" fill="#000"/>
<path d="M395.45,172.1 L397.85,176.66 L393.05,176.66 Z" fill="#000"/>
<path d="M414.05,166.4 L416.45,170.96 L411.65,170.96 Z" fill="#000"/>
<path d="M432.95,163.8 L435.35,168.36 L430.55,168.36 Z" fill="#000"/>
<path d="M452.05,166.2 L454.45,170.76 L449.65,170.76 Z" fill="#000"/>
<path d="M470.85,161.9 L473.25,166.46 L468.45,166.46 Z" fill="#000"/>
<path d="M489.55,166.4 L491.95,170.96 L487.15,170.96 Z" fill="#000"/>
<rect x="374.3" y="167.65" width="4.5" height="4.5" fill="#000"/>
<rect x="393.2" y="159.55" width="4.5" height="4.5" fill="#000"/>
<rect x="411.8" y="137.45" width="4.5" height="4.5" fill="#000"/>
<rect x="430.7" y="137.35" width="4.5" height="4.5" fill="#000"/>
<rect x="449.8" y="137.75" width="4.5" height="4.5" fill="#000"/>
<rect x="468.6" y="143.25" width="4.5" height="4.5" fill="#000"/>
<rect x="487.3" y="134.75" width="4.5" height="4.5" fill="#000"/>
<rect x="506.3" y="134.95" width="4.5" height="4.5" fill="#000"/>
</svg>
</body>
</html>
